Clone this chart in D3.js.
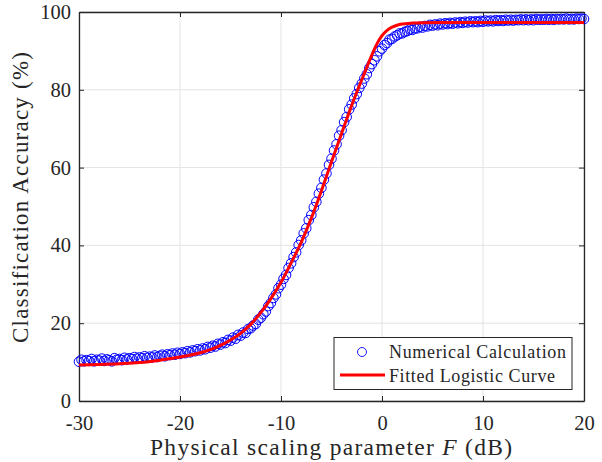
<!DOCTYPE html>
<html>
<head>
<meta charset="utf-8">
<script src="https://cdn.jsdelivr.net/npm/d3@7"></script>
<style>
  body { margin: 0; background: #fff; }
  text { font-family: "Liberation Serif", "Times New Roman", serif; fill: #262626; }
</style>
</head>
<body>
<svg id="chart" width="602" height="462"></svg>
<script>
// sampling grid of the numerical calculation (dB)
var xStart = -30, xStep = 0.25;

// numerical calculation, accuracy (%) at each grid point
var accuracy = [
  10.1, 10.6, 10.2, 10.5,  10.3, 10.8, 10.2, 10.6,  10.4, 10.9, 10.3, 10.7,
  10.5, 10.2, 11.0, 10.6,  10.8, 10.5, 11.1, 10.7,  11.0, 10.8, 11.3, 10.9,
  11.2, 11.0, 11.5, 11.1,  11.4, 11.2, 11.7, 11.3,  11.6, 11.9, 11.5, 12.0,
  11.8, 12.2, 11.9, 12.4,  12.1, 12.5, 12.3, 12.8,  12.5, 13.0, 12.8, 13.3,
  13.0, 13.5, 13.3, 13.9,  13.7, 14.2, 14.0, 14.7,  14.5, 15.1, 14.9, 15.7,
  15.5, 16.3, 16.0, 17.0,  16.8, 17.6, 17.5, 18.5,  18.7, 19.4, 19.8, 20.9,
  21.4, 22.3, 23.0, 24.4,  25.2, 26.5, 27.4, 29.0,  29.9, 31.4, 32.4, 34.2,
  35.4, 37.0, 38.2, 40.1,  41.3, 43.1, 44.4, 46.5,  47.8, 49.8, 51.2, 53.3,
  54.8, 56.9, 58.5, 60.7,  62.3, 64.4, 66.0, 68.2,  69.6, 71.7, 73.0, 75.0,
  76.2, 77.8, 78.9, 80.5,  81.6, 82.9, 84.0, 85.6,  86.6, 87.6, 88.6, 89.9,
  90.6, 91.5, 92.0, 92.9,  93.1, 93.7, 94.0, 94.5,  94.5, 94.9, 95.1, 95.5,
  95.4, 95.8, 95.8, 96.2,  96.0, 96.4, 96.3, 96.7,  96.5, 96.8, 96.6, 97.0,
  96.8, 97.1, 96.9, 97.2,  97.0, 97.3, 97.1, 97.4,  97.2, 97.5, 97.3, 97.6,
  97.4, 97.6, 97.4, 97.7,  97.5, 97.8, 97.6, 97.8,  97.6, 97.9, 97.7, 97.9,
  97.7, 98.0, 97.8, 98.0,  97.8, 98.0, 97.9, 98.1,  97.9, 98.1, 97.9, 98.1,
  97.9, 98.2, 98.0, 98.1,  98.0, 98.2, 98.0, 98.2,  98.0, 98.2, 98.1, 98.2,
  98.1, 98.3, 98.1, 98.2,  98.1, 98.3, 98.2, 98.3,  98.2
];

// fitted logistic curve
var fitX = [-30, -28, -26, -24, -22, -20, -18, -17, -16, -15, -14, -13, -12, -11, -10, -9, -8, -7, -6, -5,
            -4, -3, -2, -1.5, -1, -0.5, 0, 0.5, 1, 1.5, 2, 3, 4, 6, 10, 15, 20];
var fitY = [9.25, 9.4, 9.6, 9.9, 10.5, 11.3, 12.4, 13.2, 14.3, 15.7, 17.4, 19.7, 22.7, 26.3, 30.5, 35.5, 40.8, 47, 54, 61.5,
            68.8, 76, 82.6, 85.8, 89, 91.8, 93.9, 95.3, 96.1, 96.6, 96.9, 97.15, 97.25, 97.3, 97.3, 97.3, 97.3];

var xTicks = [-30, -20, -10, 0, 10, 20];
var yTicks = [0, 20, 40, 60, 80, 100];
var seriesNames = ["Numerical Calculation", "Fitted Logistic Curve"];

var svg = d3.select("#chart");
var pLeft = 79, pRight = 584, pTop = 12, pBottom = 401;
var axisColor = "#262626";

var xScale = d3.scaleLinear().domain([-30, 20]).range([pLeft, pRight]);
var yScale = d3.scaleLinear().domain([0, 100]).range([pBottom, pTop]);

// grid
var grid = svg.append("g");
grid.selectAll(".gx").data(xTicks).enter().append("line")
    .attr("x1", d => xScale(d)).attr("x2", d => xScale(d))
    .attr("y1", pTop).attr("y2", pBottom)
    .style("stroke", "#e3e3e3").style("stroke-width", 1);
grid.selectAll(".gy").data(yTicks).enter().append("line")
    .attr("y1", d => yScale(d)).attr("y2", d => yScale(d))
    .attr("x1", pLeft).attr("x2", pRight)
    .style("stroke", "#e3e3e3").style("stroke-width", 1);

// axes on all four sides, ticks inward
function styleAxis(g) {
    g.select(".domain").style("stroke", axisColor).style("stroke-width", 1.3);
    g.selectAll(".tick line").style("stroke", axisColor).style("stroke-width", 1);
    g.selectAll(".tick text").style("font-size", "20.5px").style("fill", axisColor)
        .style("font-family", "'Liberation Serif', serif");
}
var fmt = d => d;
svg.append("g").attr("transform", `translate(0, ${pBottom})`)
    .call(d3.axisBottom(xScale).tickValues(xTicks).tickFormat(fmt).tickSizeInner(-5).tickSizeOuter(0).tickPadding(14))
    .call(styleAxis);
svg.append("g").attr("transform", `translate(0, ${pTop})`)
    .call(d3.axisTop(xScale).tickValues(xTicks).tickFormat("").tickSizeInner(-5).tickSizeOuter(0))
    .call(styleAxis);
svg.append("g").attr("transform", `translate(${pLeft}, 0)`)
    .call(d3.axisLeft(yScale).tickValues(yTicks).tickFormat(fmt).tickSizeInner(-5).tickSizeOuter(0).tickPadding(8))
    .call(styleAxis);
svg.append("g").attr("transform", `translate(${pRight}, 0)`)
    .call(d3.axisRight(yScale).tickValues(yTicks).tickFormat("").tickSizeInner(-5).tickSizeOuter(0))
    .call(styleAxis);

// numerical points
svg.append("g").selectAll("circle")
    .data(accuracy).enter().append("circle")
    .attr("cx", (d, i) => xScale(xStart + i * xStep))
    .attr("cy", d => yScale(d))
    .attr("r", 4.8)
    .style("fill", "none")
    .style("stroke", "#0000ff")
    .style("stroke-width", 1);

// fitted curve
var line = d3.line()
    .x(d => xScale(d[0]))
    .y(d => yScale(d[1]))
    .curve(d3.curveMonotoneX);
svg.append("path")
    .attr("d", line(fitX.map((x, i) => [x, fitY[i]])))
    .style("fill", "none")
    .style("stroke", "#ff0000")
    .style("stroke-width", 3);

// axis labels
svg.append("text")
    .attr("x", 150)
    .attr("y", 455)
    .attr("textLength", 362)
    .attr("lengthAdjust", "spacing")
    .style("font-size", "23.5px")
    .html('Physical scaling parameter <tspan font-style="italic">F</tspan> (dB)');

svg.append("g")
    .attr("transform", `translate(28, 343) rotate(-90)`)
    .append("text")
    .attr("textLength", 291)
    .attr("lengthAdjust", "spacing")
    .style("font-size", "23px")
    .text("Classification Accuracy (%)");

// legend
var legend = svg.append("g");
legend.append("rect")
    .attr("x", 334).attr("y", 337.5).attr("width", 238).attr("height", 52)
    .style("fill", "#fff").style("stroke", axisColor).style("stroke-width", 1);
legend.append("circle")
    .attr("cx", 362).attr("cy", 352).attr("r", 4.5)
    .style("fill", "none").style("stroke", "#0000ff").style("stroke-width", 0.9);
legend.append("line")
    .attr("x1", 340).attr("x2", 385).attr("y1", 375).attr("y2", 375)
    .style("stroke", "#ff0000").style("stroke-width", 3);
var legendWidths = [177, 166];
legend.selectAll(".lt").data(seriesNames).enter().append("text")
    .attr("x", 389)
    .attr("y", (d, i) => 358 + i * 24)
    .attr("textLength", (d, i) => legendWidths[i])
    .attr("lengthAdjust", "spacing")
    .style("font-size", "18px")
    .text(d => d);
</script>
</body>
</html>
